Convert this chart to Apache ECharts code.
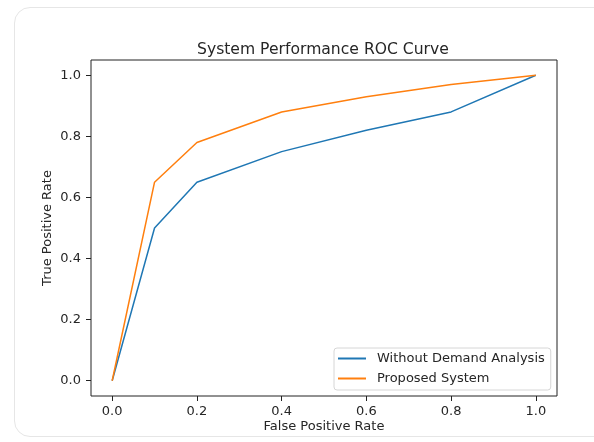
<!DOCTYPE html>
<html><head><meta charset="utf-8">
<script src="https://cdn.jsdelivr.net/npm/echarts@6/dist/echarts.min.js"></script>
<style>
html,body{margin:0;padding:0;background:#fff;width:594px;height:442px;overflow:hidden;}
#card{position:absolute;left:14px;top:7px;width:640px;height:430px;border:1px solid #e6e6e6;border-radius:16px;box-sizing:border-box;}
#c{position:absolute;left:0;top:0;width:594px;height:442px;}
</style></head>
<body>
<div id="card"></div>
<div id="c"></div>
<script>
const fpr = [0.0, 0.1, 0.2, 0.4, 0.6, 0.8, 1.0];
const tprWithout = [0.0, 0.5, 0.65, 0.75, 0.82, 0.88, 1.0];
const tprProposed = [0.0, 0.65, 0.78, 0.88, 0.93, 0.97, 1.0];
const tickValues = [0.0, 0.2, 0.4, 0.6, 0.8, 1.0];
const seriesNames = ['Without Demand Analysis', 'Proposed System'];

const font = 'DejaVu Sans';
const chart = echarts.init(document.getElementById('c'), null, {renderer: 'canvas'});
function axis(extra) {
  return Object.assign({
    type: 'value', min: -0.05, max: 1.05,
    splitLine: {show: false},
    axisLine: {show: false, onZero: false},
    axisTick: {show: true, inside: false, customValues: tickValues, length: 5, lineStyle: {color: '#222', width: 1}},
    nameLocation: 'middle',
    nameMoveOverlap: false,
    nameTextStyle: {color: '#262626', fontFamily: font, fontSize: 13}
  }, extra);
}
const labelCommon = {customValues: tickValues, color: '#262626', fontFamily: font, fontSize: 13,
  formatter: v => v.toFixed(1)};
chart.setOption({
  animation: false,
  title: {text: 'System Performance ROC Curve', left: 192, top: 37,
    textStyle: {fontFamily: font, fontSize: 15.6, fontWeight: 'normal', color: '#262626'}},
  grid: {left: 91, right: 37, top: 60, bottom: 46, show: true, borderColor: '#222', borderWidth: 1},
  xAxis: axis({name: 'False Positive Rate', nameGap: 24,
    axisLabel: Object.assign({}, labelCommon, {margin: 9})}),
  yAxis: axis({name: 'True Positive Rate', nameGap: 37,
    axisLabel: Object.assign({}, labelCommon, {margin: 10})}),
  legend: {
    orient: 'vertical', left: 334, top: 348, itemWidth: 28, itemHeight: 2, itemGap: 7,
    icon: 'rect', padding: [4, 6, 5, 4],
    borderColor: '#d6d6d6', borderWidth: 1, borderRadius: 3, backgroundColor: 'rgba(255,255,255,0.8)',
    formatter: name => '{t|' + name + '}',
    textStyle: {fontFamily: font, fontSize: 13, color: '#262626',
      rich: {t: {fontFamily: font, fontSize: 13, color: '#262626', padding: [0, 0, 0, 6]}}},
    data: seriesNames
  },
  series: [
    {name: seriesNames[0], type: 'line', data: fpr.map((x, i) => [x, tprWithout[i]]),
      showSymbol: false, symbol: 'none', lineStyle: {color: '#1f77b4', width: 1.5}, itemStyle: {color: '#1f77b4'}},
    {name: seriesNames[1], type: 'line', data: fpr.map((x, i) => [x, tprProposed[i]]),
      showSymbol: false, symbol: 'none', lineStyle: {color: '#ff7f0e', width: 1.5}, itemStyle: {color: '#ff7f0e'}}
  ]
});
</script>
</body></html>
